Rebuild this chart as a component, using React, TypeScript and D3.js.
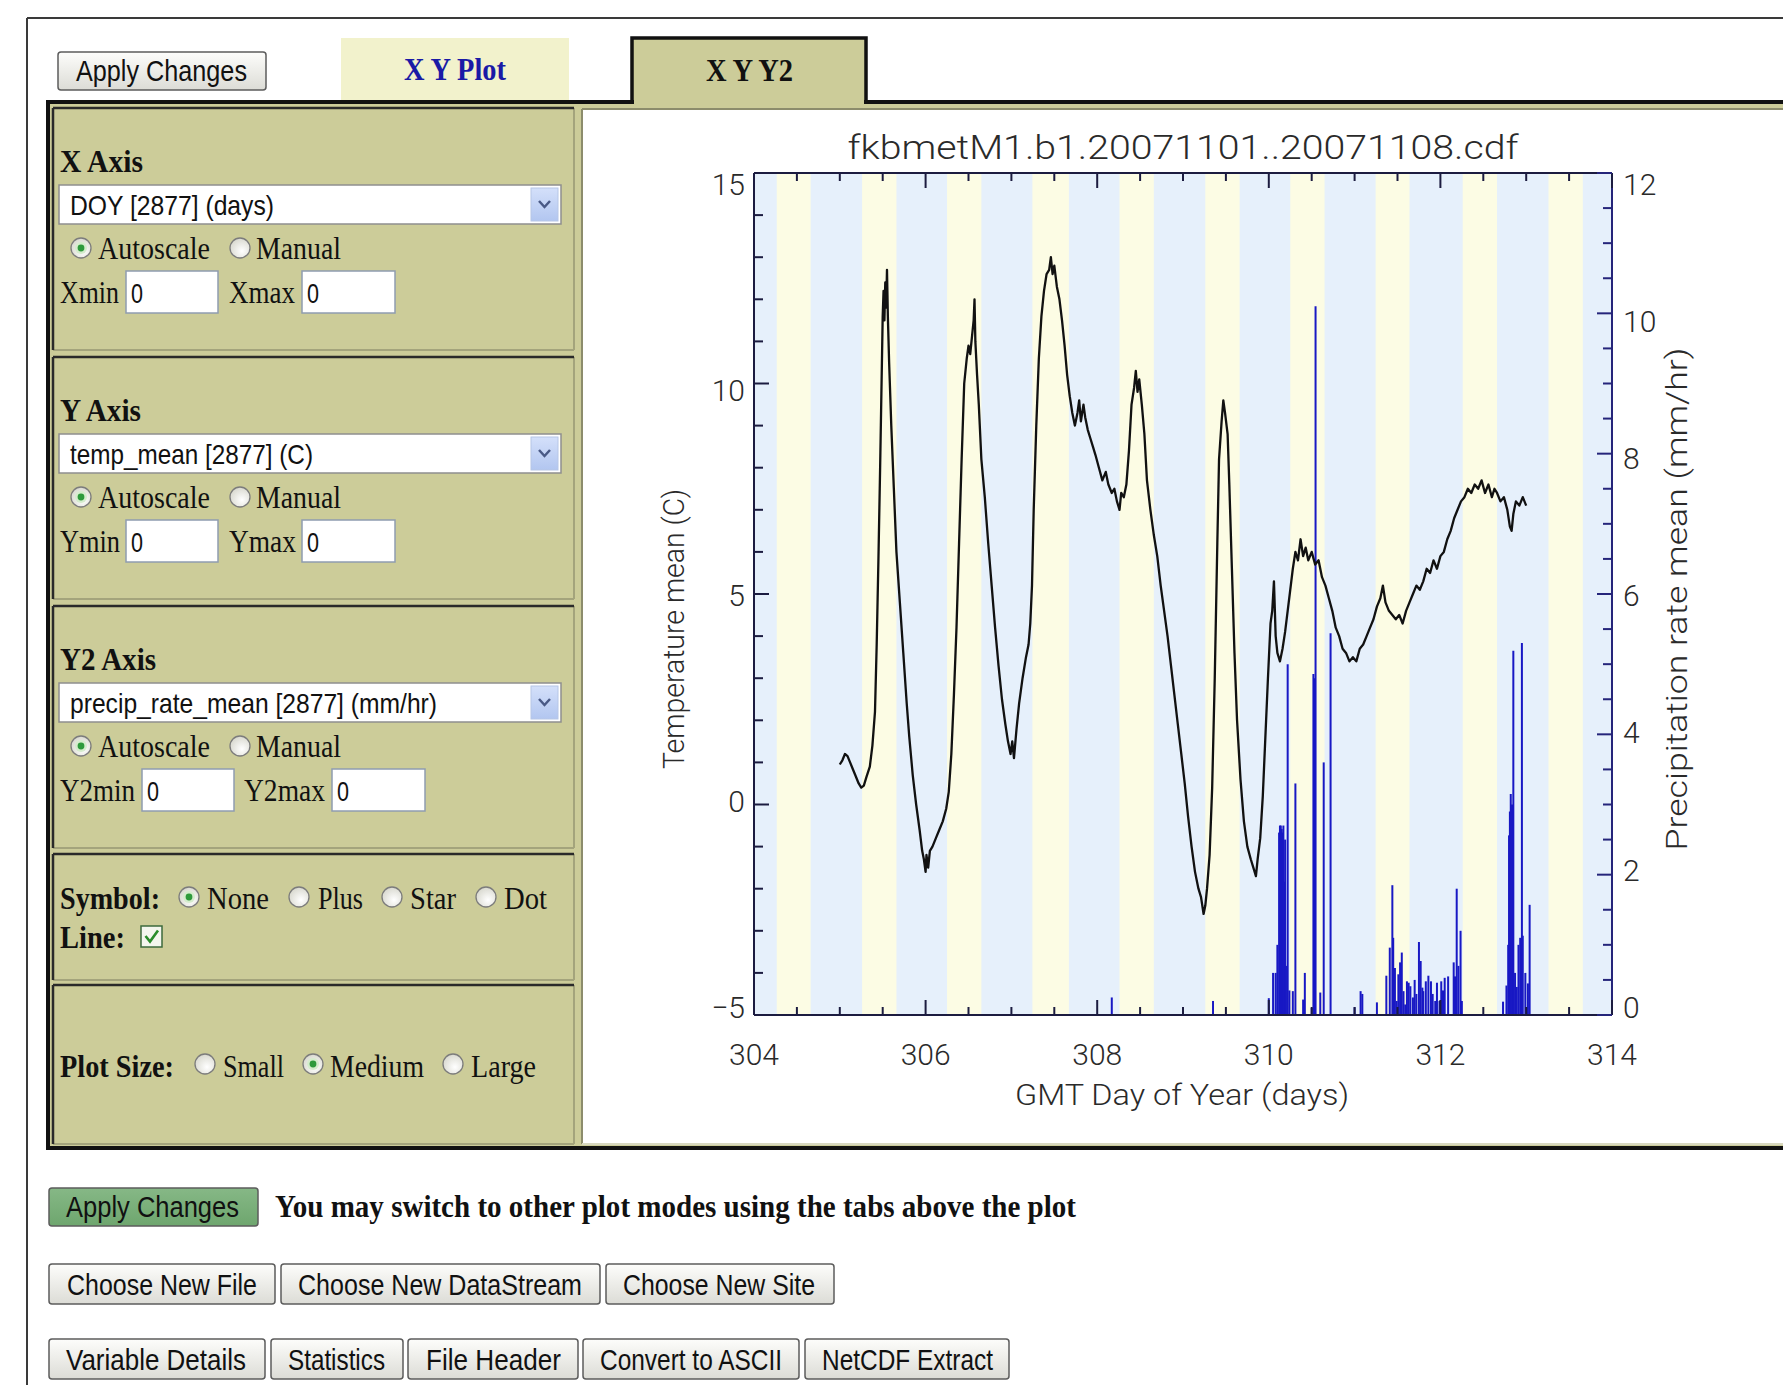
import React from "react";
import * as d3 from "d3";

const W = 1783;
const H = 1385;

// daylight bands (GMT day of year, sunrise / sunset as day fractions)
const bandDays = [304, 305, 306, 307, 308, 309, 310, 311, 312, 313];
const sunriseFrac = [0.265, 0.26, 0.25, 0.245, 0.26, 0.26, 0.25, 0.245, 0.26, 0.26];
const sunsetFrac = [0.66, 0.66, 0.65, 0.67, 0.66, 0.66, 0.65, 0.64, 0.66, 0.66];

// temp_mean (C)
const tempDays = [
  305.0, 305.03, 305.06, 305.09, 305.12, 305.15, 305.18, 305.22, 305.25, 305.28, 305.31, 305.35,
  305.38, 305.41, 305.43, 305.45, 305.47, 305.49, 305.5, 305.51, 305.52, 305.53, 305.54, 305.55,
  305.56, 305.575, 305.6, 305.63, 305.66, 305.7, 305.74, 305.78, 305.81, 305.85, 305.89, 305.93,
  305.96, 305.98, 306.0, 306.01, 306.03, 306.05, 306.08, 306.12, 306.16, 306.2, 306.24, 306.27,
  306.3, 306.33, 306.36, 306.39, 306.42, 306.45, 306.48, 306.5, 306.52, 306.54, 306.56, 306.57,
  306.58, 306.6, 306.62, 306.65, 306.69, 306.73, 306.77, 306.81, 306.85, 306.89, 306.93, 306.96,
  306.99, 307.01, 307.03, 307.06, 307.09, 307.13, 307.17, 307.2, 307.22, 307.24, 307.26, 307.29,
  307.32, 307.35, 307.38, 307.41, 307.44, 307.46, 307.48, 307.5, 307.53, 307.56, 307.59, 307.62,
  307.65, 307.68, 307.71, 307.74, 307.77, 307.79, 307.81, 307.84, 307.86, 307.89, 307.92, 307.95,
  307.98, 308.02, 308.06, 308.1, 308.13, 308.17, 308.2, 308.23, 308.26, 308.28, 308.31, 308.34,
  308.37, 308.4, 308.43, 308.45, 308.47, 308.49, 308.52, 308.55, 308.58, 308.62, 308.66, 308.7,
  308.74, 308.78, 308.82, 308.86, 308.9, 308.94, 308.98, 309.02, 309.06, 309.1, 309.14, 309.18,
  309.21, 309.24, 309.26, 309.28, 309.31, 309.34, 309.37, 309.4, 309.42, 309.45, 309.47, 309.49,
  309.52, 309.54, 309.57, 309.6, 309.63, 309.67, 309.71, 309.75, 309.79, 309.82, 309.85, 309.87,
  309.9, 309.93, 309.96, 309.99, 310.02, 310.04, 310.06, 310.08, 310.1, 310.13, 310.16, 310.19,
  310.22, 310.25, 310.28, 310.31, 310.34, 310.37, 310.4, 310.43, 310.46, 310.5, 310.54, 310.58,
  310.62, 310.66, 310.7, 310.74, 310.78, 310.82, 310.86, 310.9, 310.94, 310.98, 311.02, 311.06,
  311.1, 311.14, 311.18, 311.22, 311.26, 311.3, 311.33, 311.36, 311.4, 311.44, 311.48, 311.52,
  311.56, 311.6, 311.64, 311.68, 311.72, 311.76, 311.8, 311.84, 311.88, 311.92, 311.96, 312.0,
  312.04, 312.08, 312.12, 312.16, 312.2, 312.24, 312.28, 312.32, 312.36, 312.4, 312.44, 312.48,
  312.52, 312.56, 312.6, 312.63, 312.66, 312.7, 312.74, 312.78, 312.81, 312.83, 312.85, 312.88,
  312.92, 312.96, 313.0,
];
const tempMean = [
  0.95, 1.05, 1.2, 1.15, 1.0, 0.85, 0.7, 0.5, 0.4, 0.45, 0.65, 0.9,
  1.4, 2.2, 3.8, 5.8, 8.0, 10.4, 11.6, 12.2, 11.5, 12.4, 11.8, 12.7,
  11.6, 10.5, 9.0, 7.5, 6.0, 4.8, 3.6, 2.4, 1.6, 0.7, 0.0, -0.6,
  -1.1, -1.3, -1.6, -1.2, -1.5, -1.1, -1.0, -0.8, -0.6, -0.4, -0.1, 0.3,
  1.2, 2.6, 4.2, 6.2, 8.2, 10.0, 10.6, 10.9, 10.7, 11.1, 11.5, 12.0,
  11.0, 10.2, 9.5, 8.2, 7.3, 6.2, 5.2, 4.2, 3.3, 2.5, 1.9, 1.5,
  1.2, 1.5, 1.1, 1.8, 2.4, 3.0, 3.5, 3.8, 4.3, 5.2, 7.0, 9.0,
  10.6, 11.6, 12.2, 12.6, 12.7, 13.0, 12.6, 12.8, 12.3, 12.0, 11.5, 10.9,
  10.2, 9.7, 9.3, 9.0, 9.3, 9.6, 9.1, 9.5, 9.2, 8.9, 8.7, 8.5,
  8.3, 8.0, 7.7, 7.9, 7.6, 7.4, 7.5, 7.2, 7.0, 7.4, 7.3, 7.6,
  8.4, 9.5, 9.9, 10.3, 9.8, 10.1, 9.5, 8.8, 7.7, 7.0, 6.4, 5.9,
  5.2, 4.6, 4.0, 3.3, 2.6, 1.9, 1.2, 0.5, -0.3, -1.0, -1.6, -2.0,
  -2.2, -2.6, -2.4, -2.0, -1.2, 0.4, 3.0, 6.2, 8.2, 9.1, 9.6, 9.3,
  8.8, 7.6, 5.6, 3.6, 2.0, 0.6, -0.4, -1.0, -1.3, -1.5, -1.7, -1.3,
  -0.8, 0.2, 1.6, 3.0, 4.3, 4.6, 5.3, 4.0, 3.6, 3.4, 3.7, 4.1,
  4.6, 5.1, 5.6, 6.0, 5.8, 6.3, 5.9, 6.1, 5.8, 6.0, 5.7, 5.8,
  5.4, 5.2, 4.9, 4.6, 4.2, 4.0, 3.7, 3.6, 3.4, 3.5, 3.4, 3.7,
  3.8, 4.0, 4.2, 4.4, 4.7, 4.9, 5.2, 4.8, 4.6, 4.5, 4.4, 4.5,
  4.3, 4.6, 4.8, 5.0, 5.2, 5.1, 5.3, 5.6, 5.5, 5.8, 5.6, 5.9,
  6.0, 6.3, 6.5, 6.8, 7.0, 7.2, 7.3, 7.5, 7.4, 7.6, 7.5, 7.7,
  7.4, 7.6, 7.3, 7.5, 7.4, 7.2, 7.3, 7.0, 6.6, 6.5, 6.9, 7.2,
  7.1, 7.3, 7.1,
];

// precip_rate_mean (mm/hr)
const precipDays = [
  308.17, 309.35, 310.0, 310.05, 310.08, 310.1, 310.12, 310.13, 310.14, 310.15, 310.16, 310.17,
  310.18, 310.19, 310.2, 310.22, 310.24, 310.28, 310.31, 310.4, 310.42, 310.5, 310.52, 310.53,
  310.545, 310.6, 310.64, 310.72, 311.0, 311.07, 311.09, 311.26, 311.37, 311.41, 311.44, 311.45,
  311.47, 311.49, 311.51, 311.53, 311.55, 311.57, 311.59, 311.61, 311.63, 311.65, 311.68, 311.7,
  311.72, 311.75, 311.77, 311.79, 311.8, 311.83, 311.86, 311.89, 311.91, 311.94, 311.96, 311.99,
  312.01, 312.03, 312.05, 312.09, 312.155, 312.17, 312.19, 312.21, 312.235, 312.25, 312.73, 312.77,
  312.79, 312.8, 312.81, 312.82, 312.835, 312.85, 312.87, 312.89, 312.91, 312.93, 312.95, 312.96,
  312.99, 313.02, 313.04,
];
const precipMean = [
  0.25, 0.2, 0.24, 0.6, 0.6, 1.0, 2.6, 2.7, 2.7, 2.65, 2.6, 2.7,
  1.9, 2.5, 0.7, 5.0, 0.35, 0.34, 3.3, 0.22, 0.6, 0.1, 4.86, 4.8,
  10.1, 0.32, 3.6, 5.44, 0.11, 0.34, 0.3, 0.18, 0.56, 0.96, 1.85, 1.1,
  0.67, 0.2, 0.58, 0.75, 0.89, 0.34, 0.15, 0.48, 0.46, 0.41, 0.25, 0.5,
  0.3, 1.04, 0.77, 0.39, 0.34, 0.48, 0.56, 0.48, 0.3, 0.2, 0.46, 0.2,
  0.48, 0.35, 0.53, 0.55, 0.75, 0.55, 1.8, 0.7, 1.2, 0.2, 0.19, 0.42,
  1.0, 2.56, 2.9, 3.15, 3.0, 5.19, 0.6, 0.4, 1.0, 1.1, 5.3, 1.13,
  0.6, 0.45, 1.57,
];

const xTickLabels = ["304", "306", "308", "310", "312", "314"];
const yTickLabels = ["\u22125", "0", "5", "10", "15"];
const y2TickLabels = ["0", "2", "4", "6", "8", "10", "12"];

const serif = "'Liberation Serif', 'Times New Roman', serif";
const sans = "'Liberation Sans', Arial, sans-serif";
const chartFont = "Roboto, 'DejaVu Sans', sans-serif";
const olive = "#cccc99";

const num = (s: string) => Number(s.replace("\u2212", "-"));

function Txt({ x, y, w, size = 31, bold = false, font = serif, fill = "#111", children }: any) {
  return (
    <text x={x} y={y} fontFamily={font} fontSize={size} fontWeight={bold ? 700 : 400} fill={fill}
      textLength={w} lengthAdjust="spacingAndGlyphs">{children}</text>
  );
}

function Btn({ x, y, w, h, label, tx, tw, fill = "url(#btnGrad)" }: any) {
  return (
    <g>
      <rect x={x} y={y} width={w} height={h} rx={3} fill={fill} stroke="#5c5c5c" strokeWidth={1.5} />
      <Txt x={tx} y={y + h - 9} w={tw} size={29} font={sans}>{label}</Txt>
    </g>
  );
}

function Radio({ cx, cy, on = false }: any) {
  return (
    <g>
      <circle cx={cx} cy={cy} r={10} fill="url(#radioGrad)" stroke="#7c7c7c" strokeWidth={1.3} />
      {on && <circle cx={cx} cy={cy} r={6} fill="#d4eccc" />}
      {on && <circle cx={cx} cy={cy} r={3.4} fill="#2e9a3c" />}
    </g>
  );
}

function Select({ y, label, tw }: any) {
  return (
    <g>
      <rect x={59} y={y} width={502} height={39} fill="#fff" stroke="#8e8e8e" strokeWidth={1.5} />
      <rect x={531} y={y + 3} width={27} height={33} fill="url(#ddGrad)" stroke="#b6c6e6" />
      <polyline points={`539,${y + 16} 544.5,${y + 22} 550,${y + 16}`} fill="none" stroke="#4a5a86" strokeWidth={2.5} />
      <Txt x={70} y={y + 30} w={tw} size={28} font={sans}>{label}</Txt>
    </g>
  );
}

function Input({ x, y, w }: any) {
  return (
    <g>
      <rect x={x} y={y} width={w} height={42} fill="#fff" stroke="#8f9cb0" strokeWidth={1.5} />
      <text x={x + 5} y={y + 32} fontFamily={sans} fontSize={28} fill="#111" textLength={12}
        lengthAdjust="spacingAndGlyphs">0</text>
    </g>
  );
}

function Section({ y, h }: any) {
  return (
    <g>
      <rect x={53} y={y} width={521} height={h} fill={olive} />
      <line x1={53} y1={y + h} x2={574} y2={y + h} stroke="#a4a47c" strokeWidth={2} />
      <line x1={574} y1={y} x2={574} y2={y + h} stroke="#a4a47c" strokeWidth={2} />
      <line x1={53} y1={y} x2={574} y2={y} stroke="#2a2a2a" strokeWidth={2.5} />
      <line x1={53} y1={y} x2={53} y2={y + h} stroke="#2a2a2a" strokeWidth={2.5} />
    </g>
  );
}

function AxisPanel({ top, title, varLabel, varW, minLabel, maxLabel, minW, maxW, minX, maxLabelX, maxX, titleW }: any) {
  return (
    <g>
      <Section y={top} h={242} />
      <Txt x={60} y={top + 64} w={titleW} bold>{title}</Txt>
      <Select y={top + 77} label={varLabel} tw={varW} />
      <Radio cx={81} cy={top + 140} on />
      <Txt x={98} y={top + 151} w={112}>Autoscale</Txt>
      <Radio cx={240} cy={top + 140} />
      <Txt x={256} y={top + 151} w={85}>Manual</Txt>
      <Txt x={60} y={top + 195} w={minW}>{minLabel}</Txt>
      <Input x={minX} y={top + 163} w={92} />
      <Txt x={maxLabelX} y={top + 195} w={maxW}>{maxLabel}</Txt>
      <Input x={maxX} y={top + 163} w={93} />
    </g>
  );
}

function Chart() {
  const p = { left: 754, right: 1612, top: 173, bottom: 1015 };
  const x = d3.scaleLinear().domain([304, 314]).range([p.left, p.right]);
  const y = d3.scaleLinear().domain([-5, 15]).range([p.bottom, p.top]);
  const y2 = d3.scaleLinear().domain([0, 12]).range([p.bottom, p.top]);
  // IDL pulls the end labels slightly inside the axis span
  const yLab = d3.scaleLinear().domain([-5, 15]).range([1007, 184]);
  const y2Lab = d3.scaleLinear().domain([0, 12]).range([1007, 184]);
  const line = d3.line<number>().x((_, i) => x(tempDays[i])).y((d) => y(d));
  const axisCol = "#1c1c40";
  const navy = "#25257a";

  return (
    <g>
      {/* day / night bands */}
      <rect x={p.left} y={p.top} width={p.right - p.left} height={p.bottom - p.top} fill="#e6f0fb" />
      {bandDays.map((d, i) => (
        <rect key={d} x={x(d + sunriseFrac[i])} y={p.top}
          width={x(d + sunsetFrac[i]) - x(d + sunriseFrac[i])} height={p.bottom - p.top} fill="#fcfce4" />
      ))}

      {/* precipitation */}
      {precipDays.map((d, i) => (
        <line key={i} x1={x(d)} x2={x(d)} y1={y2(0)} y2={y2(precipMean[i])} stroke="#1818c4" strokeWidth={2} />
      ))}

      {/* temperature */}
      <path d={line(tempMean) || ""} fill="none" stroke="#111" strokeWidth={2.3} strokeLinejoin="round" />

      {/* axes */}
      <line x1={p.left} x2={p.right} y1={p.bottom} y2={p.bottom} stroke={axisCol} strokeWidth={2} />
      <line x1={p.left} x2={p.right} y1={p.top} y2={p.top} stroke={axisCol} strokeWidth={2} />
      <line x1={p.left} x2={p.left} y1={p.top} y2={p.bottom} stroke={axisCol} strokeWidth={2} />
      <line x1={p.right} x2={p.right} y1={p.top} y2={p.bottom} stroke={navy} strokeWidth={2} />

      {x.ticks(20).map((t) => {
        const len = t % 2 === 0 ? 15 : 8;
        return (
          <g key={"x" + t}>
            <line x1={x(t)} x2={x(t)} y1={p.bottom} y2={p.bottom - len} stroke={axisCol} strokeWidth={2} />
            <line x1={x(t)} x2={x(t)} y1={p.top} y2={p.top + len} stroke={axisCol} strokeWidth={2} />
          </g>
        );
      })}
      {y.ticks(20).map((t) => (
        <line key={"y" + t} x1={p.left} x2={p.left + (t % 5 === 0 ? 15 : 9)} y1={y(t)} y2={y(t)} stroke={axisCol} strokeWidth={2} />
      ))}
      {y2.ticks(24).map((t) => (
        <line key={"y2" + t} x1={p.right} x2={p.right - (t % 2 === 0 ? 15 : 9)} y1={y2(t)} y2={y2(t)} stroke={navy} strokeWidth={2} />
      ))}

      <g fontFamily={chartFont} fontWeight={300} fontSize={30} fill="#2a2a2a">
        {xTickLabels.map((s) => (
          <text key={s} x={x(num(s))} y={1065} textAnchor="middle">{s}</text>
        ))}
        {yTickLabels.map((s) => (
          <text key={s} x={745} y={yLab(num(s))} dy="0.36em" textAnchor="end">{s}</text>
        ))}
        {y2TickLabels.map((s) => (
          <text key={s} x={1623} y={y2Lab(num(s))} dy="0.36em">{s}</text>
        ))}
        <text x={1183} y={159} textAnchor="middle" fontSize={33} textLength={671} lengthAdjust="spacingAndGlyphs">
          fkbmetM1.b1.20071101..20071108.cdf
        </text>
        <text x={1182} y={1105} textAnchor="middle" textLength={334} lengthAdjust="spacingAndGlyphs">
          GMT Day of Year (days)
        </text>
        <text transform="translate(684,629) rotate(-90)" textAnchor="middle" textLength={280} lengthAdjust="spacingAndGlyphs">
          Temperature mean (C)
        </text>
        <text transform="translate(1687,599) rotate(-90)" textAnchor="middle" textLength={503} lengthAdjust="spacingAndGlyphs">
          Precipitation rate mean (mm/hr)
        </text>
      </g>
    </g>
  );
}

export default function App() {
  return (
    <svg width={W} height={H} style={{ position: "absolute", left: 0, top: 0, background: "#fff" }}>
      <defs>
        <linearGradient id="btnGrad" x1="0" y1="0" x2="0" y2="1">
          <stop offset="0" stopColor="#fdfdfb" />
          <stop offset="1" stopColor="#dcdcd6" />
        </linearGradient>
        <linearGradient id="greenGrad" x1="0" y1="0" x2="0" y2="1">
          <stop offset="0" stopColor="#86b886" />
          <stop offset="1" stopColor="#6ea66e" />
        </linearGradient>
        <linearGradient id="ddGrad" x1="0" y1="0" x2="0" y2="1">
          <stop offset="0" stopColor="#d4e0fa" />
          <stop offset="1" stopColor="#b2c6f0" />
        </linearGradient>
        <radialGradient id="radioGrad" cx="0.6" cy="0.65" r="0.7">
          <stop offset="0" stopColor="#ffffff" />
          <stop offset="1" stopColor="#d6d6cc" />
        </radialGradient>
      </defs>
      <rect width={W} height={H} fill="#fff" />

      {/* page frame */}
      <line x1={27} y1={18} x2={W} y2={18} stroke="#3a3a3a" strokeWidth={2} />
      <line x1={27} y1={18} x2={27} y2={H} stroke="#3a3a3a" strokeWidth={2} />

      {/* tabs */}
      <rect x={341} y={38} width={228} height={64} fill="#f2f2cc" />
      <Txt x={404} y={80} w={102} bold fill="#1a1aa6">X Y Plot</Txt>
      <rect x={632} y={38} width={234} height={66} fill={olive} />
      <polyline points="632,104 632,38 866,38 866,104" fill="none" stroke="#111" strokeWidth={3.5} />
      <Txt x={706} y={81} w={87} bold>X Y Y2</Txt>

      <Btn x={58} y={52} w={208} h={38} label="Apply Changes" tx={76} tw={171} />

      {/* main box */}
      <rect x={48} y={104} width={W - 48} height={1044} fill={olive} />
      <line x1={48} y1={102} x2={634} y2={102} stroke="#111" strokeWidth={4} />
      <line x1={864} y1={102} x2={W} y2={102} stroke="#111" strokeWidth={4} />
      <line x1={48} y1={100} x2={48} y2={1150} stroke="#111" strokeWidth={4} />
      <line x1={46} y1={1148} x2={W} y2={1148} stroke="#111" strokeWidth={4} />

      {/* control sections */}
      <AxisPanel top={108} title="X Axis" titleW={83} varLabel="DOY [2877] (days)" varW={204}
        minLabel="Xmin" maxLabel="Xmax" minW={59} maxW={66} minX={126} maxLabelX={229} maxX={302} />
      <AxisPanel top={357} title="Y Axis" titleW={81} varLabel="temp_mean [2877] (C)" varW={243}
        minLabel="Ymin" maxLabel="Ymax" minW={60} maxW={67} minX={126} maxLabelX={229} maxX={302} />
      <AxisPanel top={606} title="Y2 Axis" titleW={96} varLabel="precip_rate_mean [2877] (mm/hr)" varW={367}
        minLabel="Y2min" maxLabel="Y2max" minW={75} maxW={81} minX={142} maxLabelX={244} maxX={332} />

      <Section y={854} h={126} />
      <Txt x={60} y={909} w={100} bold>Symbol:</Txt>
      <Radio cx={189} cy={897} on />
      <Txt x={207} y={909} w={62}>None</Txt>
      <Radio cx={299} cy={897} />
      <Txt x={318} y={909} w={45}>Plus</Txt>
      <Radio cx={392} cy={897} />
      <Txt x={410} y={909} w={46}>Star</Txt>
      <Radio cx={486} cy={897} />
      <Txt x={504} y={909} w={43}>Dot</Txt>
      <Txt x={60} y={948} w={65} bold>Line:</Txt>
      <rect x={141} y={926} width={21} height={21} fill="#f4f6ee" stroke="#3c6a3c" strokeWidth={1.5} />
      <polyline points="145.5,936 150,941.5 158,930.5" fill="none" stroke="#2a8c2a" strokeWidth={2.6} />

      <Section y={985} h={159} />
      <Txt x={60} y={1077} w={114} bold>Plot Size:</Txt>
      <Radio cx={205} cy={1064} />
      <Txt x={223} y={1077} w={61}>Small</Txt>
      <Radio cx={313} cy={1064} on />
      <Txt x={330} y={1077} w={94}>Medium</Txt>
      <Radio cx={453} cy={1064} />
      <Txt x={471} y={1077} w={65}>Large</Txt>

      {/* plot cell */}
      <rect x={582} y={109} width={W - 582} height={1035} fill="#fff" />
      <line x1={582} y1={109} x2={W} y2={109} stroke="#8c8c6c" strokeWidth={2} />
      <line x1={582} y1={109} x2={582} y2={1144} stroke="#8c8c6c" strokeWidth={2} />
      <line x1={582} y1={1144} x2={W} y2={1144} stroke="#d8d8c0" strokeWidth={2} />
      <Chart />

      {/* bottom controls */}
      <Btn x={49} y={1188} w={209} h={38} label="Apply Changes" tx={66} tw={173} fill="url(#greenGrad)" />
      <Txt x={275} y={1217} w={801} bold>You may switch to other plot modes using the tabs above the plot</Txt>

      <Btn x={49} y={1264} w={226} h={40} label="Choose New File" tx={67} tw={190} />
      <Btn x={281} y={1264} w={319} h={40} label="Choose New DataStream" tx={298} tw={284} />
      <Btn x={606} y={1264} w={228} h={40} label="Choose New Site" tx={623} tw={192} />

      <Btn x={49} y={1339} w={216} h={40} label="Variable Details" tx={66} tw={180} />
      <Btn x={271} y={1339} w={132} h={40} label="Statistics" tx={288} tw={97} />
      <Btn x={408} y={1339} w={170} h={40} label="File Header" tx={426} tw={135} />
      <Btn x={583} y={1339} w={216} h={40} label="Convert to ASCII" tx={600} tw={182} />
      <Btn x={805} y={1339} w={204} h={40} label="NetCDF Extract" tx={822} tw={171} />
    </svg>
  );
}
